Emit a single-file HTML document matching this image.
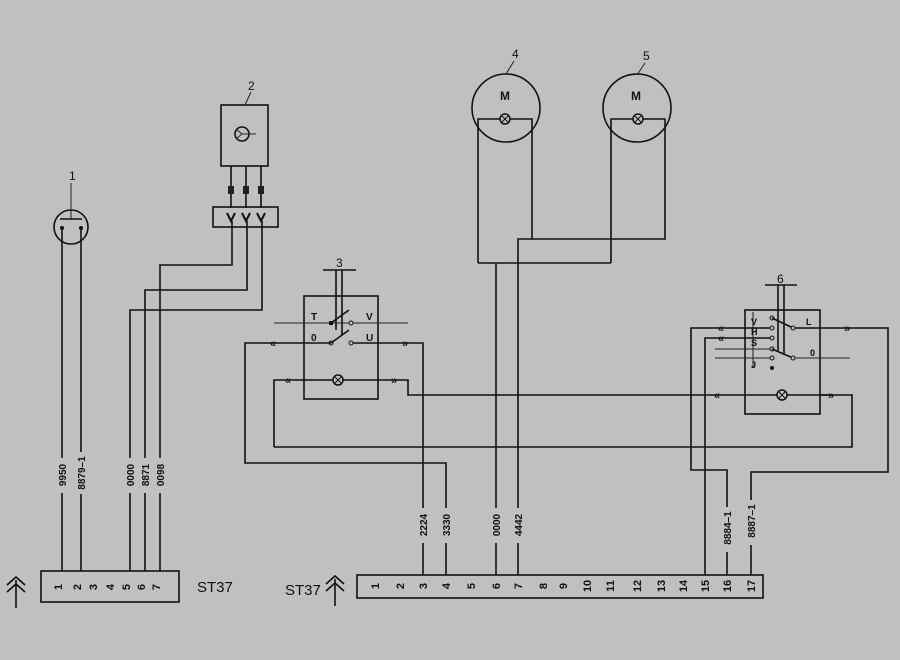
<!DOCTYPE html>
<html><head><meta charset="utf-8"><style>
html,body{margin:0;padding:0;background:#c0c0c0;}
svg{display:block;}
text{font-family:"Liberation Sans",sans-serif;fill:#111;}
.w{stroke:#111;stroke-width:1.6;fill:none;}
.t{stroke:#222;stroke-width:1;fill:none;}
.lbl{font-size:10px;font-weight:bold;}
.num{font-size:11px;font-weight:bold;}
</style></head><body>
<svg width="900" height="660" viewBox="0 0 900 660" xmlns="http://www.w3.org/2000/svg">
<rect width="900" height="660" fill="#c0c0c0"/>

<!-- Component 1 -->
<text x="69" y="180" font-size="12">1</text>
<line class="t" x1="71" y1="183" x2="71" y2="219"/>
<circle class="w" cx="71" cy="227" r="17"/>
<line class="w" x1="60" y1="219" x2="82" y2="219"/>
<circle cx="62" cy="228" r="2" fill="#111"/><circle cx="81" cy="228" r="2" fill="#111"/>
<path class="w" d="M62 228V571 M81 228V571"/>

<!-- Component 2 -->
<text x="248" y="90" font-size="12">2</text>
<line class="t" x1="251" y1="92" x2="245" y2="105"/>
<rect class="w" x="221" y="105" width="47" height="61"/>
<circle class="w" cx="242" cy="134" r="7"/>
<path class="t" d="M242 134 L236 129 M242 134 L236 139 M242 134 H256"/>
<path class="w" d="M231 166V208 M246 166V208 M261 166V208"/>
<rect x="228" y="186" width="6" height="8" fill="#222"/>
<rect x="243" y="186" width="6" height="8" fill="#222"/>
<rect x="258" y="186" width="6" height="8" fill="#222"/>
<rect class="w" x="213" y="207" width="65" height="20"/>
<path d="M227 213 l4 8 l4 -8 M242 213 l4 8 l4 -8 M257 213 l4 8 l4 -8" stroke="#111" stroke-width="2" fill="none"/>
<path class="w" d="M232 221V265H160V571 M247 221V290H145V571 M262 221V310H130V571"/>

<!-- Left connector -->
<rect class="w" x="41" y="571" width="138" height="31"/>
<g class="num" text-anchor="middle">
<text transform="translate(62,587) rotate(-90)">1</text>
<text transform="translate(81,587) rotate(-90)">2</text>
<text transform="translate(97,587) rotate(-90)">3</text>
<text transform="translate(114,587) rotate(-90)">4</text>
<text transform="translate(130,587) rotate(-90)">5</text>
<text transform="translate(145,587) rotate(-90)">6</text>
<text transform="translate(160,587) rotate(-90)">7</text>
</g>
<text x="197" y="592" font-size="15">ST37</text>
<path class="w" d="M7 585 L16 577 L25 585 M7 592 L16 584 L25 592 M16 580 V608"/>

<!-- left wire labels -->
<g class="lbl" text-anchor="middle">
<rect x="56" y="458" width="12" height="35" fill="#c0c0c0"/><text transform="translate(66,475) rotate(-90)">9950</text>
<rect x="75" y="452" width="12" height="42" fill="#c0c0c0"/><text transform="translate(85,473) rotate(-90)">8879–1</text>
<rect x="124" y="458" width="12" height="35" fill="#c0c0c0"/><text transform="translate(134,475) rotate(-90)">0000</text>
<rect x="139" y="458" width="12" height="35" fill="#c0c0c0"/><text transform="translate(149,475) rotate(-90)">8871</text>
<rect x="154" y="458" width="12" height="35" fill="#c0c0c0"/><text transform="translate(164,475) rotate(-90)">0098</text>
</g>

<!-- Component 3 switch -->
<text x="336" y="267" font-size="12">3</text>
<line class="w" x1="323" y1="270" x2="356" y2="270"/>
<path class="w" d="M336 270V330 M342 270V335"/>
<rect class="w" x="304" y="296" width="74" height="103"/>
<line class="t" x1="274" y1="323" x2="408" y2="323"/>
<text x="311" y="320" font-size="10" font-weight="bold">T</text>
<text x="366" y="320" font-size="10" font-weight="bold">V</text>
<text x="311" y="341" font-size="10" font-weight="bold">0</text>
<text x="366" y="341" font-size="10" font-weight="bold">U</text>
<rect x="329" y="321" width="4" height="4" fill="#111"/>
<line class="w" x1="331" y1="323" x2="349" y2="310"/>
<circle cx="351" cy="323" r="2" fill="#c0c0c0" stroke="#111"/>
<circle cx="331" cy="343" r="2" fill="#c0c0c0" stroke="#111"/>
<line class="w" x1="331" y1="343" x2="349" y2="330"/>
<circle cx="351" cy="343" r="2" fill="#c0c0c0" stroke="#111"/>
<path class="w" d="M331 343H245V463H446V575"/>
<path class="w" d="M353 343H423V575"/>
<text x="270" y="347" font-size="11" font-weight="bold">«</text>
<text x="402" y="347" font-size="11" font-weight="bold">»</text>
<path class="w" d="M274 447V380H408V395H720"/>
<circle cx="338" cy="380" r="5" fill="#c0c0c0" stroke="#111" stroke-width="1.5"/>
<path d="M335 377l6 6M341 377l-6 6" stroke="#111"/>
<text x="285" y="384" font-size="11" font-weight="bold">«</text>
<text x="391" y="384" font-size="11" font-weight="bold">»</text>
<path class="w" d="M274 447H852V395H820"/>

<!-- Motors -->
<text x="512" y="58" font-size="12">4</text>
<line class="t" x1="514" y1="61" x2="506" y2="74"/>
<circle class="w" cx="506" cy="108" r="34"/>
<text x="500" y="100" font-size="12" font-weight="bold">M</text>
<path class="w" d="M478 263V119H532V239"/>
<circle cx="505" cy="119" r="5" fill="#c0c0c0" stroke="#111" stroke-width="1.5"/>
<path d="M502 116l6 6M508 116l-6 6" stroke="#111"/>
<text x="643" y="60" font-size="12">5</text>
<line class="t" x1="645" y1="63" x2="637" y2="75"/>
<circle class="w" cx="637" cy="108" r="34"/>
<text x="631" y="100" font-size="12" font-weight="bold">M</text>
<path class="w" d="M611 263V119H665V239H518V575"/>
<circle cx="638" cy="119" r="5" fill="#c0c0c0" stroke="#111" stroke-width="1.5"/>
<path d="M635 116l6 6M641 116l-6 6" stroke="#111"/>
<path class="w" d="M478 263H611 M496 263V575"/>

<!-- Component 6 -->
<text x="777" y="283" font-size="12">6</text>
<line class="w" x1="765" y1="285" x2="797" y2="285"/>
<path class="w" d="M778 285V352 M784 285V355"/>
<rect class="w" x="745" y="310" width="75" height="104"/>
<line class="t" x1="753" y1="312" x2="753" y2="368"/>
<g font-size="9" font-weight="bold"><text x="751" y="325">V</text><text x="751" y="335">H</text><text x="751" y="346">S</text><text x="751" y="368">J</text>
<text x="806" y="325">L</text><text x="810" y="356">0</text></g>
<circle cx="772" cy="318" r="2" fill="#c0c0c0" stroke="#111"/>
<circle cx="772" cy="328" r="2" fill="#c0c0c0" stroke="#111"/>
<circle cx="772" cy="338" r="2" fill="#c0c0c0" stroke="#111"/>
<circle cx="772" cy="349" r="2" fill="#c0c0c0" stroke="#111"/>
<circle cx="772" cy="358" r="2" fill="#c0c0c0" stroke="#111"/>
<circle cx="772" cy="368" r="2" fill="#111"/>
<line class="w" x1="772" y1="318" x2="793" y2="328"/>
<line class="w" x1="772" y1="349" x2="793" y2="358"/>
<circle cx="793" cy="328" r="2" fill="#c0c0c0" stroke="#111"/>
<circle cx="793" cy="358" r="2" fill="#c0c0c0" stroke="#111"/>
<path class="w" d="M795 328H888V472H751V575"/>
<text x="844" y="332" font-size="11" font-weight="bold">»</text>
<line class="t" x1="795" y1="358" x2="850" y2="358"/>
<line class="t" x1="715" y1="349" x2="770" y2="349"/>
<line class="t" x1="715" y1="358" x2="770" y2="358"/>
<path class="w" d="M770 328H691V470H727V575"/>
<path class="w" d="M770 338H705V575"/>
<text x="718" y="332" font-size="11" font-weight="bold">«</text>
<text x="718" y="342" font-size="11" font-weight="bold">«</text>
<path class="w" d="M720 395H833"/>
<circle cx="782" cy="395" r="5" fill="#c0c0c0" stroke="#111" stroke-width="1.5"/>
<path d="M779 392l6 6M785 392l-6 6" stroke="#111"/>
<text x="714" y="399" font-size="11" font-weight="bold">«</text>
<text x="828" y="399" font-size="11" font-weight="bold">»</text>

<!-- right wire labels -->
<g class="lbl" text-anchor="middle">
<rect x="417" y="508" width="12" height="35" fill="#c0c0c0"/><text transform="translate(427,525) rotate(-90)">2224</text>
<rect x="440" y="508" width="12" height="35" fill="#c0c0c0"/><text transform="translate(450,525) rotate(-90)">3330</text>
<rect x="490" y="508" width="12" height="35" fill="#c0c0c0"/><text transform="translate(500,525) rotate(-90)">0000</text>
<rect x="512" y="508" width="12" height="35" fill="#c0c0c0"/><text transform="translate(522,525) rotate(-90)">4442</text>
<rect x="721" y="507" width="12" height="45" fill="#c0c0c0"/><text transform="translate(731,528) rotate(-90)">8884–1</text>
<rect x="745" y="500" width="12" height="45" fill="#c0c0c0"/><text transform="translate(755,521) rotate(-90)">8887–1</text>
</g>

<!-- Right connector -->
<rect class="w" x="357" y="575" width="406" height="23"/>
<g class="num" text-anchor="middle">
<text transform="translate(375,586) rotate(-90)" dy="4">1</text>
<text transform="translate(400,586) rotate(-90)" dy="4">2</text>
<text transform="translate(423,586) rotate(-90)" dy="4">3</text>
<text transform="translate(446,586) rotate(-90)" dy="4">4</text>
<text transform="translate(471,586) rotate(-90)" dy="4">5</text>
<text transform="translate(496,586) rotate(-90)" dy="4">6</text>
<text transform="translate(518,586) rotate(-90)" dy="4">7</text>
<text transform="translate(543,586) rotate(-90)" dy="4">8</text>
<text transform="translate(563,586) rotate(-90)" dy="4">9</text>
<text transform="translate(587,586) rotate(-90)" dy="4">10</text>
<text transform="translate(610,586) rotate(-90)" dy="4">11</text>
<text transform="translate(637,586) rotate(-90)" dy="4">12</text>
<text transform="translate(661,586) rotate(-90)" dy="4">13</text>
<text transform="translate(683,586) rotate(-90)" dy="4">14</text>
<text transform="translate(705,586) rotate(-90)" dy="4">15</text>
<text transform="translate(727,586) rotate(-90)" dy="4">16</text>
<text transform="translate(751,586) rotate(-90)" dy="4">17</text>
</g>
<text x="285" y="595" font-size="15">ST37</text>
<path class="w" d="M326 584 L335 576 L344 584 M326 591 L335 583 L344 591 M335 579 V606"/>
</svg>
</body></html>
